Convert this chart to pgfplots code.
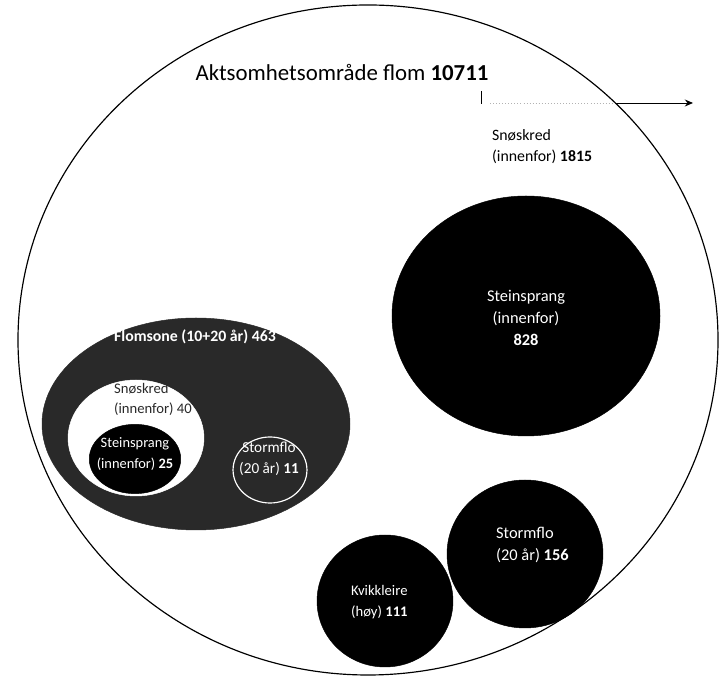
\documentclass[border=0pt]{standalone}
\usepackage{pgfplots}
\pgfplotsset{compat=1.18}
\usepackage{fontspec}
\setmainfont{Carlito}
\usetikzlibrary{arrows.meta}
\definecolor{flom}{gray}{0.16}
\begin{document}
\begin{tikzpicture}
\begin{axis}[
  set layers,
  scale only axis, width=21.63cm, height=20.31cm,
  xmin=0, xmax=721, ymin=0, ymax=677, y dir=reverse,
  hide axis, clip=false,
]
% invisible frame so the picture keeps the full extent
\addplot[draw=none, forget plot] coordinates {(0,0) (721,677)};
% big circle: Aktsomhetsomraade flom 10711
\addplot[only marks, mark=*, mark size=10.05cm,
  mark options={xscale=1.0448, fill=white, draw=black, line width=1pt}] coordinates {(368,340)};
% Steinsprang 828
\addplot[only marks, mark=*, mark size=3.6cm,
  mark options={xscale=1.1167, fill=black, draw=black}] coordinates {(526,316)};
% Flomsone 463
\addplot[only marks, mark=*, mark size=3.18cm,
  mark options={xscale=1.4528, fill=flom, draw=flom}] coordinates {(196,424)};
% Snoskred 40
\addplot[only marks, mark=*, mark size=1.74cm,
  mark options={xscale=1.172, fill=white, draw=white}] coordinates {(136,438)};
% Steinsprang 25
\addplot[only marks, mark=*, mark size=1.04cm,
  mark options={xscale=1.32, fill=black, draw=black}] coordinates {(135,459)};
% Stormflo 11
\addplot[only marks, mark=*, mark size=0.99cm,
  mark options={xscale=1.12, fill=flom, draw=white, line width=1pt}] coordinates {(270,470)};
% Stormflo 156
\addplot[only marks, mark=*, mark size=2.22cm,
  mark options={xscale=1.054, fill=black, draw=black}] coordinates {(525,554)};
% Kvikkleire 111
\addplot[only marks, mark=*, mark size=1.98cm,
  mark options={xscale=1.03, fill=black, draw=black}] coordinates {(385,601)};
% arrow
\addplot[on layer=axis foreground, black, line width=0.8pt] coordinates {(481,91) (481,104)};
\addplot[on layer=axis foreground, gray!60, line width=0.6pt, dotted] coordinates {(490,103) (615,103)};
\addplot[on layer=axis foreground, black, line width=0.8pt, -{Stealth[length=7pt,width=6pt]}] coordinates {(615,103) (693,103)};
% labels
\begin{pgfonlayer}{axis foreground}
\node[font=\fontsize{19.5}{22}\selectfont] at (axis cs:342,73) {Aktsomhetsområde flom \textbf{10711}};
\node[font=\fontsize{13.5}{18}\selectfont, align=left, anchor=west] at (axis cs:488,147) {Snøskred\\(innenfor) \textbf{1815}};
\node[font=\fontsize{14}{19}\selectfont, align=center, text=white] at (axis cs:526,318) {Steinsprang\\(innenfor)\\\textbf{828}};
\node[font=\fontsize{13.5}{16}\selectfont\bfseries, text=white] at (axis cs:195,337) {Flomsone (10+20 år) 463};
\node[font=\fontsize{12.5}{17}\selectfont, align=left, anchor=west, text=flom] at (axis cs:110,399) {Snøskred\\(innenfor) 40};
\node[font=\fontsize{12.3}{18}\selectfont, align=center, text=white] at (axis cs:135,454) {Steinsprang\\(innenfor) \textbf{25}};
\node[font=\fontsize{13}{18}\selectfont, align=center, text=white] at (axis cs:269,459) {Stormflo\\(20 år) \textbf{11}};
\node[font=\fontsize{14}{19}\selectfont, align=left, anchor=west, text=white] at (axis cs:492,545) {Stormflo\\(20 år) \textbf{156}};
\node[font=\fontsize{12.5}{18}\selectfont, align=left, anchor=west, text=white] at (axis cs:347,602) {Kvikkleire\\(høy) \textbf{111}};
\end{pgfonlayer}
\end{axis}
\end{tikzpicture}
\end{document}
